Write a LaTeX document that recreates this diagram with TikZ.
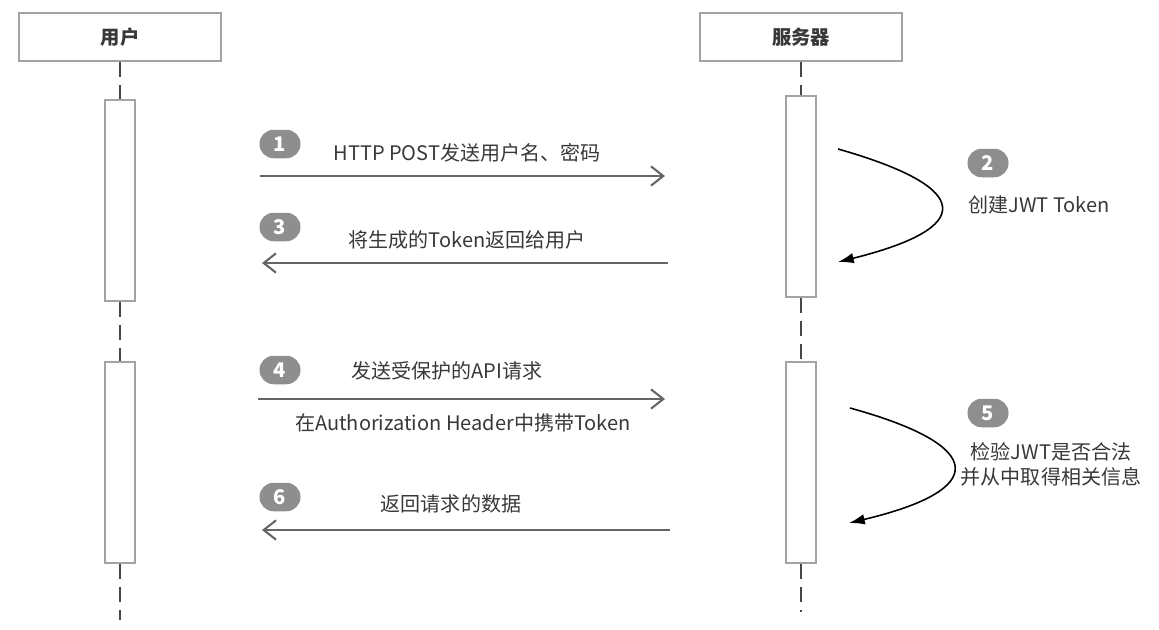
\documentclass[tikz,border=0pt]{standalone}
\usepackage{fontspec}
\setmainfont{Noto Sans CJK SC}
\usetikzlibrary{arrows.meta,positioning}

\definecolor{boxgray}{HTML}{A3A3A3}
\definecolor{linegray}{HTML}{666666}
\definecolor{badgegray}{HTML}{8E8E8E}
\definecolor{textgray}{HTML}{383838}

\tikzset{
  actor/.style={draw=boxgray, line width=1.3pt, minimum width=4.04cm, minimum height=0.96cm,
    font=\fontsize{11}{13}\selectfont\bfseries, text=textgray},
  activation/.style={draw=boxgray, line width=1pt, minimum width=0.6cm, minimum height=4.02cm, inner sep=0pt},
  lifeline/.style={dash pattern=on 0.3cm off 0.16cm, line width=1.3pt, draw=black!72},
  message/.style={draw=linegray, line width=1.2pt, -{Straight Barb[length=7pt,width=11pt]}},
  selfcall/.style={black, line width=0.9pt, -{Latex[length=9pt,width=6pt]}},
  badge/.style={fill=badgegray, rounded corners=8pt, minimum width=0.82cm, minimum height=0.57cm,
    inner sep=0pt, text=white, font=\fontsize{11.5}{13}\selectfont\bfseries},
  msglabel/.style={text=textgray, font=\fontsize{11.4}{14.2}\selectfont, align=center},
}

\begin{document}
\begin{tikzpicture}[x=0.02cm, y=-0.02cm]
  \useasboundingbox (0,0) rectangle (1159,629);

  % Actors
  \node[actor] (user) at (120,37) {用户};
  \node[actor] (server) at (801,37) {服务器};

  % Activation boxes
  \node[activation] (ua1) at (120,200.5) {};
  \node[activation] (ua2) at (120,462.5) {};
  \node[activation] (sa1) at (801,196.5) {};
  \node[activation] (sa2) at (801,462.5) {};

  % Lifelines
  \coordinate (uend) at (120,620);
  \coordinate (send) at (801,612);
  \draw[lifeline] (user.south) -- (ua1.north);
  \draw[lifeline] (ua1.south) -- (ua2.north);
  \draw[lifeline] (ua2.south) -- (uend);
  \draw[lifeline] (server.south) -- (sa1.north);
  \draw[lifeline] (sa1.south) -- (sa2.north);
  \draw[lifeline] (sa2.south) -- (send);

  % Message ends
  \coordinate (m1a) at (260,176);  \coordinate (m1b) at (665,176);
  \coordinate (m3a) at (668,263);  \coordinate (m3b) at (262,263);
  \coordinate (m4a) at (258,399);  \coordinate (m4b) at (665,399);
  \coordinate (m6a) at (670,530);  \coordinate (m6b) at (262,530);

  % Messages
  \draw[message] (m1a) -- (m1b);
  \draw[message] (m3a) -- (m3b);
  \draw[message] (m4a) -- (m4b);
  \draw[message] (m6a) -- (m6b);

  % Step badges
  \node[badge] (b1) at (280,144) {1};
  \node[badge] (b2) at (988,163) {2};
  \node[badge] (b3) at (280,227) {3};
  \node[badge] (b4) at (280,370) {4};
  \node[badge] (b5) at (988,413) {5};
  \node[badge] (b6) at (280,497) {6};

  % Message labels
  \node[msglabel] (t1) at (467,153) {HTTP POST发送用户名、密码};
  \node[msglabel] (t3) at (467,240) {将生成的Token返回给用户};
  \node[msglabel] (t4) at (447,371) {发送受保护的API请求};
  \node[msglabel] (t4b) at (463,423) {在Authorization Header中携带Token};
  \node[msglabel] (t6) at (451,504) {返回请求的数据};

  % Self calls on the server
  \coordinate (c2a) at (838,149);  \coordinate (c2b) at (838,262);
  \coordinate (c5a) at (850,408);  \coordinate (c5b) at (849,523);
  \draw[selfcall] (c2a) .. controls (975,188) and (975,228) .. (c2b);
  \draw[selfcall] (c5a) .. controls (988,446) and (988,490) .. (c5b);
  \node[msglabel] (t2) at (1039,205) {创建JWT Token};
  \node[msglabel] (t5) at (1051,464) {检验JWT是否合法\\并从中取得相关信息};
\end{tikzpicture}
\end{document}
